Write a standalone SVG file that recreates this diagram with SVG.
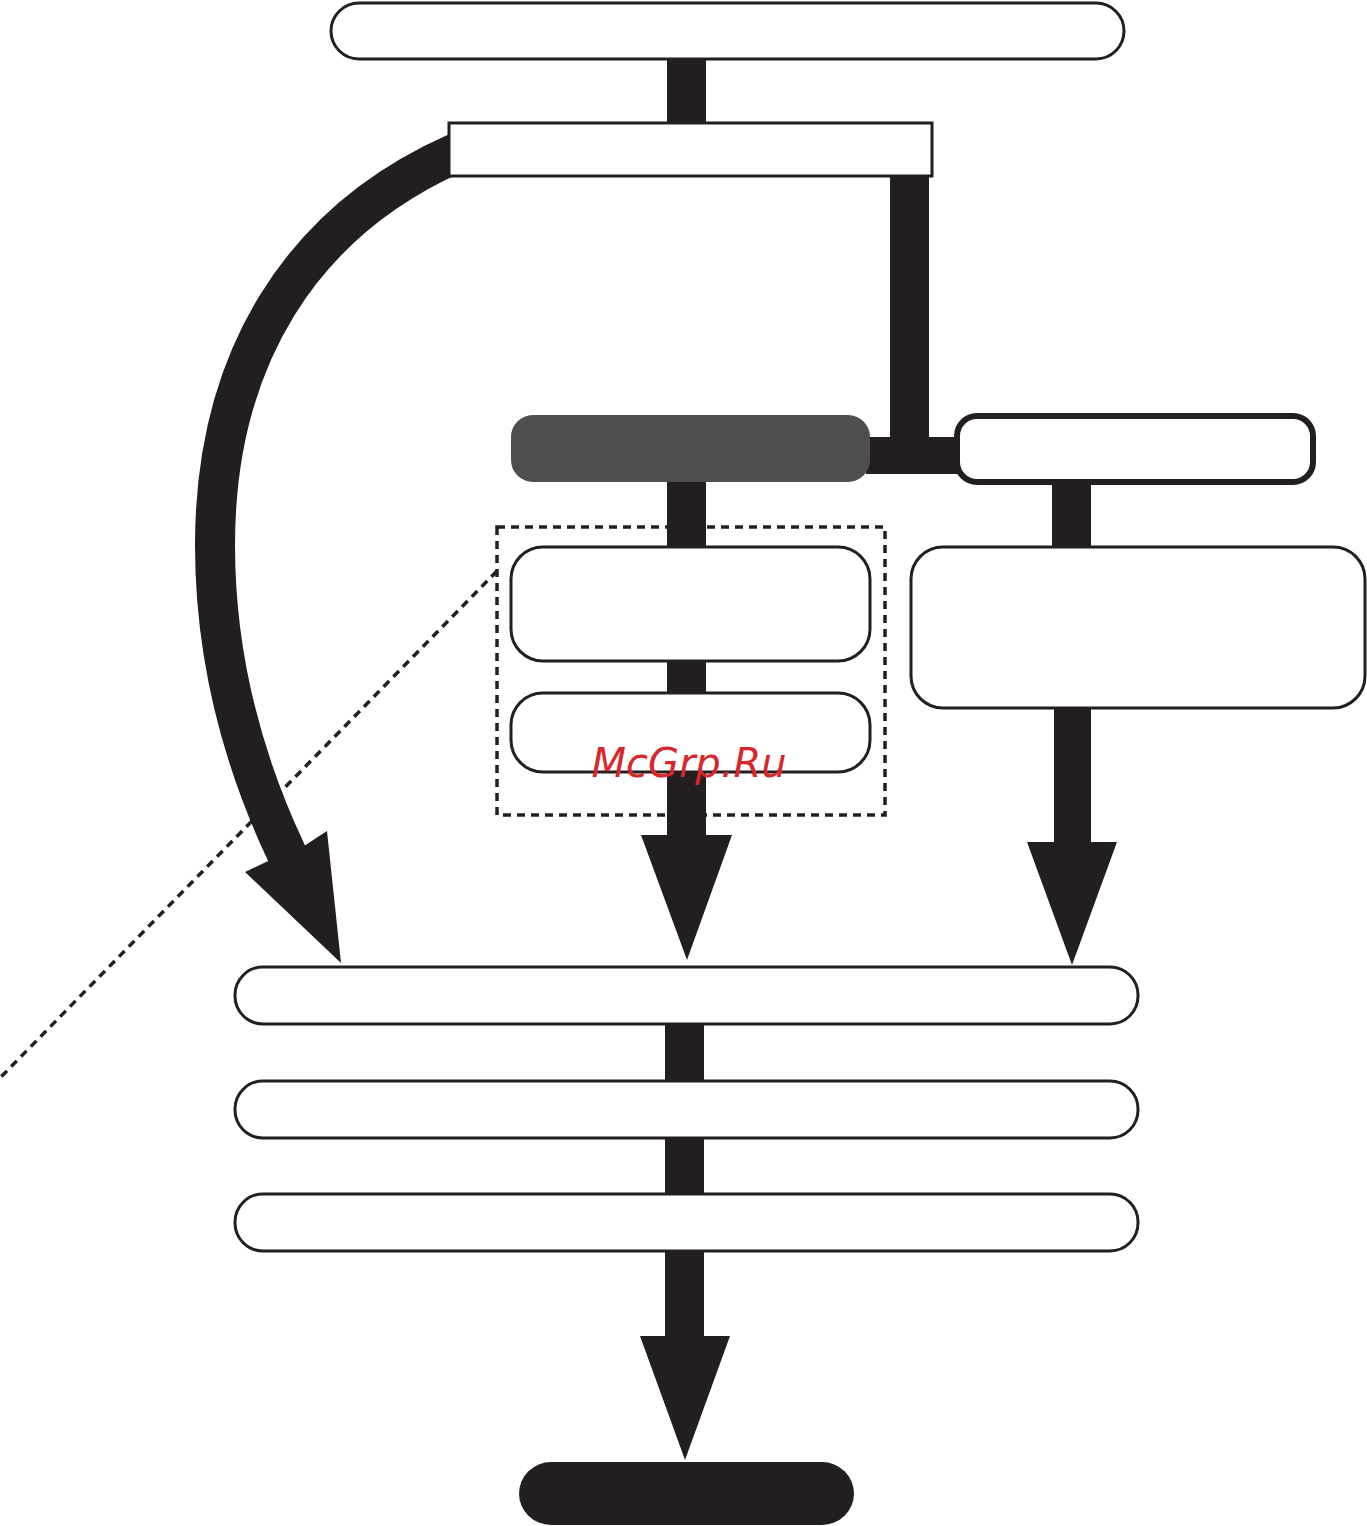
<svg xmlns="http://www.w3.org/2000/svg" width="1367" height="1526" viewBox="0 0 1367 1526">
<style>
.n{fill:#fff;stroke:#231f20;stroke-width:3}
.bar{fill:#231f20}
.dash{fill:none;stroke:#231f20;stroke-width:3.5;stroke-dasharray:8 6}
.wm{font-family:"DejaVu Sans",sans-serif;font-style:italic;font-size:40px;fill:#d9262b}
</style>
<rect width="1367" height="1526" fill="#fff"/>
<g id="connectors">
<rect class="bar" x="667" y="58" width="39" height="66"/>
<rect class="bar" x="890" y="176" width="39" height="298"/>
<rect class="bar" x="866" y="437" width="92" height="37"/>
<rect class="bar" x="667" y="480" width="39" height="68"/>
<rect class="bar" x="667" y="660" width="39" height="34"/>
<path class="bar" d="M667,771 H706 V835 H732 L687,960 L641,835 H667 Z"/>
<rect class="bar" x="1052" y="481" width="39" height="67"/>
<path class="bar" d="M1054,707 H1091 V842 H1117 L1072,965 L1027,842 H1054 Z"/>
<rect class="bar" x="665" y="1023" width="39" height="59"/>
<rect class="bar" x="665" y="1137" width="39" height="58"/>
<path class="bar" d="M665,1250 H704 V1336 H730 L685,1460 L640,1336 H665 Z"/>
<path d="M456,153 C300,222 215,360 215,545 C215,660 245,765 286,852 L294,869" fill="none" stroke="#231f20" stroke-width="40"/>
<path class="bar" d="M266,862 L245,872 L341,963 L327,831 L304,846 Z"/>
<path class="dash" d="M497,571 L0,1078"/>
</g>
<g id="n-top"><rect class="n" x="331" y="3" width="793" height="56" rx="28"/></g>
<g id="n-second"><rect class="n" x="449" y="123" width="483" height="53"/></g>
<g id="n-dark"><rect x="511" y="415" width="359" height="67" rx="22" fill="#4f4d4f"/></g>
<g id="n-right"><rect x="957" y="416" width="356" height="66" rx="20" fill="#fff" stroke="#231f20" stroke-width="6"/></g>
<g id="group-box"><rect class="dash" x="497" y="527" width="388" height="288"/></g>
<g id="n-a"><rect class="n" x="511" y="547" width="359" height="114" rx="32"/></g>
<g id="n-b"><rect class="n" x="511" y="693" width="359" height="79" rx="32"/></g>
<g id="n-c"><rect class="n" x="911" y="547" width="454" height="161" rx="32"/></g>
<g id="n-w1"><rect class="n" x="235" y="967" width="903" height="57" rx="28"/></g>
<g id="n-w2"><rect class="n" x="235" y="1081" width="903" height="57" rx="28"/></g>
<g id="n-w3"><rect class="n" x="235" y="1194" width="903" height="57" rx="28"/></g>
<g id="n-bottom"><rect x="519" y="1462" width="335" height="63" rx="32" fill="#231f20"/></g>
<text class="wm" x="689" y="777" text-anchor="middle">McGrp.Ru</text>
</svg>
